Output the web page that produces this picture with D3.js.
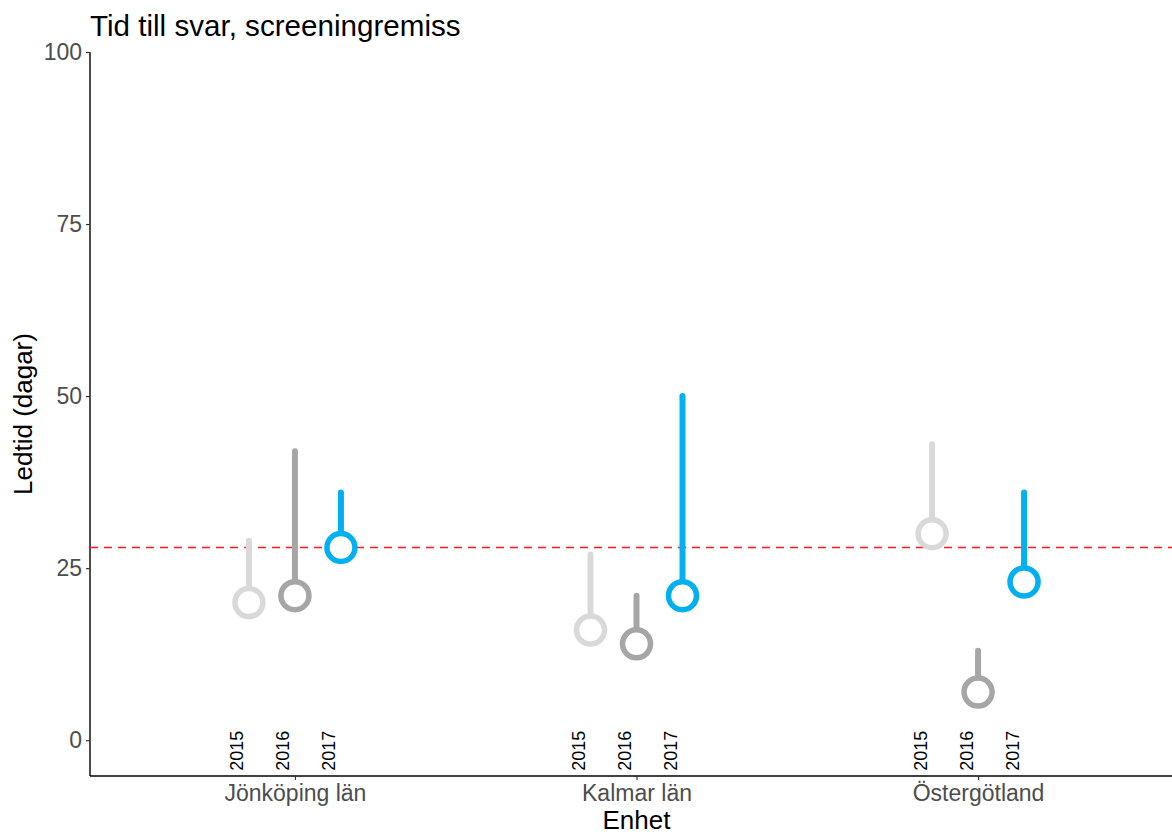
<!DOCTYPE html>
<html>
<head>
<meta charset="utf-8">
<script src="https://cdn.jsdelivr.net/npm/d3@7"></script>
<style>
  body { margin: 0; background: #fff; }
  svg { display: block; font-family: "Liberation Sans", Arial, sans-serif; }
</style>
</head>
<body>
<svg id="chart" width="1172" height="834"></svg>
<script>
const units = ["Jönköping län", "Kalmar län", "Östergötland"];
const years = ["2015", "2016", "2017"];
const medianValues = [
  [20, 21, 28],
  [16, 14, 21],
  [30, 7, 23]
];
const upperValues = [
  [29, 42, 36],
  [27, 21, 50],
  [43, 13, 36]
];
const yTicks = [0, 25, 50, 75, 100];
const targetValue = 28;
const yearColors = ["#d9d9d9", "#a6a6a6", "#00b0f0"];
const titleText = "Tid till svar, screeningremiss";
const xTitle = "Enhet";
const yTitle = "Ledtid (dagar)";

(function () {
const svg = d3.select("#chart");
const pLeft = 90, pRight = 1183, pTop = 52, pBottom = 776;

// panel spans 90..1183 (right edge clipped by the window), 0.6 unit expansion each side
const x = d3.scalePoint().domain(units).range([pLeft, pRight]).padding(0.6);
const dodge = d3.scalePoint().domain(years).range([-46, 46]);
const y = d3.scaleLinear().domain([-5.2, 100]).range([pBottom, pTop]);
const color = d3.scaleOrdinal().domain(years).range(yearColors);

// axes
const yAxis = svg.append("g").attr("transform", `translate(${pLeft},0)`)
  .call(d3.axisLeft(y).tickValues(yTicks).tickSize(4).tickPadding(4));
yAxis.select(".domain").attr("d", `M0,${pTop}V${pBottom}`).attr("stroke", "#000").attr("stroke-width", 1.4);
yAxis.selectAll(".tick line").attr("stroke", "#333").attr("stroke-width", 1.2);
yAxis.selectAll(".tick text").attr("fill", "#4d4d4d").style("font-size", "23px");

const xAxis = svg.append("g").attr("transform", `translate(0,${pBottom})`)
  .call(d3.axisBottom(x).tickSize(4).tickPadding(4.5));
xAxis.select(".domain").attr("d", `M${pLeft},0H${pRight}`).attr("stroke", "#000").attr("stroke-width", 1.4);
xAxis.selectAll(".tick line").attr("stroke", "#333").attr("stroke-width", 1.2);
xAxis.selectAll(".tick text").attr("fill", "#4d4d4d").style("font-size", "23px");

// data
const rows = [];
units.forEach((u, i) => years.forEach((yr, j) => rows.push({
  unit: u, year: yr, median: medianValues[i][j], upper: upperValues[i][j]
})));

const g = svg.append("g");
// target line
g.append("line")
  .attr("x1", pLeft).attr("x2", pRight)
  .attr("y1", y(targetValue)).attr("y2", y(targetValue))
  .attr("stroke", "#ff1a1a").attr("stroke-width", 1.5)
  .attr("stroke-dasharray", "8,6");

const marks = g.selectAll("g.mark").data(rows).join("g").attr("class", "mark");
marks.append("line")
  .attr("x1", d => x(d.unit) + dodge(d.year))
  .attr("x2", d => x(d.unit) + dodge(d.year))
  .attr("y1", d => y(d.median))
  .attr("y2", d => y(d.upper))
  .attr("stroke", d => color(d.year))
  .attr("stroke-width", 6)
  .attr("stroke-linecap", "round");
marks.append("circle")
  .attr("cx", d => x(d.unit) + dodge(d.year))
  .attr("cy", d => y(d.median))
  .attr("r", 14)
  .attr("fill", "#fff")
  .attr("stroke", d => color(d.year))
  .attr("stroke-width", 5.5);

// year labels
marks.append("text")
  .attr("transform", d => `translate(${x(d.unit) + dodge(d.year) - 5.5},${y(0) + 30.5}) rotate(-90)`)
  .attr("text-anchor", "start")
  .style("font-size", "18px")
  .attr("fill", "#000")
  .text(d => d.year);

// titles
svg.append("text").attr("x", 90).attr("y", 36).style("font-size", "29.6px").attr("fill", "#000").text(titleText);
svg.append("text").attr("x", (pLeft + pRight) / 2).attr("y", 829).attr("text-anchor", "middle").style("font-size", "26px").attr("fill", "#000").text(xTitle);
svg.append("text").attr("transform", "translate(32,414) rotate(-90)").attr("text-anchor", "middle").style("font-size", "26px").attr("fill", "#000").text(yTitle);
})();
</script>
</body>
</html>
